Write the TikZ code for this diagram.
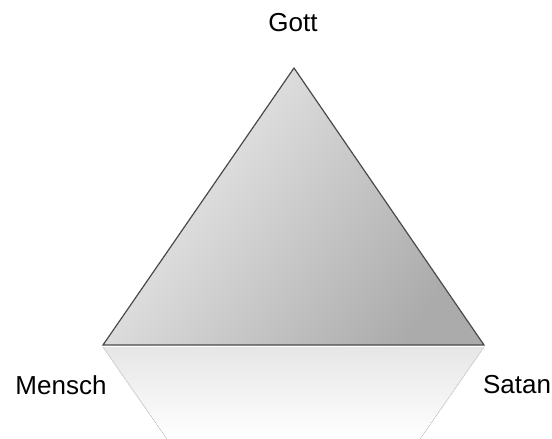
\documentclass[tikz,border=0pt]{standalone}
\usepackage{fontspec}
\setmainfont{Liberation Sans}
\usetikzlibrary{positioning, calc}
\definecolor{EdgeA}{HTML}{4A4A4A}
\definecolor{FillA}{HTML}{EEEEEE}
\definecolor{FillB}{HTML}{ABABAB}
\definecolor{MirA}{HTML}{E6E6E6}
\definecolor{MirLine}{HTML}{D6D6D6}
\tikzset{
  lbl/.style={font=\fontsize{13}{15}\selectfont, text=black, inner sep=0pt},
  tri/.style={draw=EdgeA, line width=0.6pt, line join=miter,
              top color=FillA, bottom color=FillB, shading angle=55},
  mir/.style={top color=MirA, bottom color=white, draw=none},
}

\begin{document}
\begin{tikzpicture}[x=0.5pt, y=-0.5pt]
  \useasboundingbox (0,0) rectangle (552,439);

  % corners
  \coordinate (top) at (294,68);
  \coordinate (left) at (103,345);
  \coordinate (right) at (484,345);
  \coordinate (mleft) at (103,347);
  \coordinate (mright) at (484,347);
  \coordinate (mleftb) at (167,439);
  \coordinate (mrightb) at (420,439);

  % reflection
  \fill[mir] (mleft) -- (mright) -- (mrightb) -- (mleftb) -- cycle;
  \draw[MirLine, line width=0.4pt] (mleft) -- ($(mleft)!0.7!(mleftb)$);
  \draw[MirLine, line width=0.4pt] (mright) -- ($(mright)!0.7!(mrightb)$);

  % triangle
  \shade[tri] (top) -- (right) -- (left) -- cycle;

  \node[lbl] (gott) at (293,23) {Gott};
  \node[lbl] (mensch) at (61,385) {Mensch};
  \node[lbl] (satan) at (517,385) {Satan};
\end{tikzpicture}
\end{document}
